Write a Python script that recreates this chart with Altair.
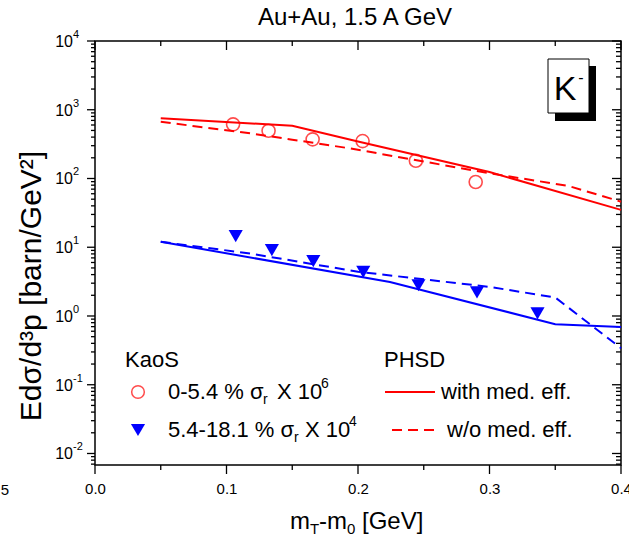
import altair as alt
import pandas as pd

# ---------------- data ----------------
kaos_c_x = [0.105, 0.132, 0.1655, 0.2035, 0.244, 0.2895]
kaos_c_y = [613, 495, 371, 350, 181, 89]

kaos_t_x = [0.107, 0.1345, 0.166, 0.204, 0.246, 0.2905, 0.3365]
kaos_t_y = [14.5, 9.1, 6.3, 4.4, 2.8, 2.2, 1.09]

red_solid_x = [0.05, 0.15, 0.2, 0.3, 0.4]
red_solid_y = [750, 585, 345, 124, 35]

red_dash_x = [0.05, 0.118, 0.15, 0.194, 0.3, 0.36, 0.4]
red_dash_y = [668, 454, 367, 274, 119, 78, 46]

blue_solid_x = [0.05, 0.2243, 0.35, 0.4]
blue_solid_y = [12.0, 3.13, 0.76, 0.69]

blue_dash_x = [0.05, 0.118, 0.2, 0.3, 0.35, 0.4]
blue_dash_y = [12.0, 8.1, 4.4, 2.65, 1.86, 0.34]

x_major = [0.0, 0.1, 0.2, 0.3, 0.4]
x_minor = [0.05, 0.15, 0.25, 0.35]
y_decades = [1e4, 1e3, 1e2, 1e1, 1e0, 1e-1, 1e-2]
y_exps = ["4", "3", "2", "1", "0", "-1", "-2"]
Y_MIN, Y_MAX = 0.0068, 1e4
y_minor = [m * d for d in [1e-3, 1e-2, 1e-1, 1e0, 1e1, 1e2, 1e3]
           for m in range(2, 10) if Y_MIN <= m * d <= Y_MAX]

# ---------------- layout ----------------
W, H = 526, 424
F = "Liberation Sans"
RED, BLUE = "#FF0000", "#0000FF"

xs = alt.Scale(domain=[0, 0.4], nice=False, zero=False)
ys = alt.Scale(type="log", domain=[Y_MIN, Y_MAX], nice=False)
xaxis = alt.Axis(values=x_major, format=".1f", ticks=False, domain=False, grid=False,
                 labelFontSize=15, labelFont=F, labelColor="black", labelPadding=16,
                 labelFlush=False, title=None)

dummy = pd.DataFrame({"a": [0]})


def X(f="x"):
    return alt.X(f"{f}:Q", scale=xs, axis=xaxis, title=None)


def Y(f="y"):
    return alt.Y(f"{f}:Q", scale=ys, axis=None, title=None)


def txt(s, x, y, size, align="left", baseline="middle", dy=0, angle=0):
    return alt.Chart(dummy).mark_text(text=s, align=align, baseline=baseline, fontSize=size,
                                      font=F, dy=dy, angle=angle, color="black").encode(
        x=alt.value(x), y=alt.value(y))


def line(xv, yv, color, dash=None):
    df = pd.DataFrame({"x": xv, "y": yv})
    kw = dict(color=color, strokeWidth=2)
    if dash:
        kw["strokeDash"] = dash
    return alt.Chart(df).mark_line(**kw).encode(x=X(), y=Y())


layers = []

# frame
layers.append(alt.Chart(dummy).mark_rect(fill="white", stroke="black", strokeWidth=1.5).encode(
    x=alt.value(0), x2=alt.value(W), y=alt.value(0), y2=alt.value(H)))

# ticks
xmaj = pd.DataFrame({"v": x_major})
xmin = pd.DataFrame({"v": x_minor})
ymaj = pd.DataFrame({"v": y_decades})
ymin = pd.DataFrame({"v": y_minor})
tk = dict(color="black", strokeWidth=1.3)
layers += [
    alt.Chart(xmaj).mark_rule(**tk).encode(x=X("v"), y=alt.value(H), y2=alt.value(H + 9)),
    alt.Chart(xmin).mark_rule(**tk).encode(x=X("v"), y=alt.value(H), y2=alt.value(H + 5)),
    alt.Chart(xmaj).mark_rule(**tk).encode(x=X("v"), y=alt.value(0), y2=alt.value(9)),
    alt.Chart(xmin).mark_rule(**tk).encode(x=X("v"), y=alt.value(0), y2=alt.value(5)),
    alt.Chart(ymaj).mark_rule(**tk).encode(y=Y("v"), x=alt.value(-8), x2=alt.value(0)),
    alt.Chart(ymin).mark_rule(**tk).encode(y=Y("v"), x=alt.value(-4), x2=alt.value(0)),
    alt.Chart(ymaj).mark_rule(**tk).encode(y=Y("v"), x=alt.value(W - 9), x2=alt.value(W)),
    alt.Chart(ymin).mark_rule(**tk).encode(y=Y("v"), x=alt.value(W - 5), x2=alt.value(W)),
]

# y tick labels 10^n
ylab = pd.DataFrame({"v": y_decades, "e": y_exps})
layers += [
    alt.Chart(ylab).mark_text(text="10", align="right", baseline="middle", fontSize=16,
                              font=F, color="black", dy=1).encode(y=Y("v"), x=alt.value(-22)),
    alt.Chart(ylab).mark_text(align="left", baseline="middle", fontSize=11, font=F,
                              color="black", dy=-6).encode(y=Y("v"), x=alt.value(-22), text="e:N"),
]

# data lines
layers += [
    line(red_solid_x, red_solid_y, RED),
    line(red_dash_x, red_dash_y, RED, [10, 6]),
    line(blue_solid_x, blue_solid_y, BLUE),
    line(blue_dash_x, blue_dash_y, BLUE, [10, 6]),
]

# data points
cdf = pd.DataFrame({"x": kaos_c_x, "y": kaos_c_y})
tdf = pd.DataFrame({"x": kaos_t_x, "y": kaos_t_y})
layers += [
    alt.Chart(cdf).mark_point(shape="circle", filled=False, size=170, strokeWidth=1.6,
                              color=RED).encode(x=X(), y=Y()),
    alt.Chart(tdf).mark_point(shape="triangle-down", filled=True, size=200, opacity=1,
                              color=BLUE).encode(x=X(), y=Y()),
]

# K- box
layers += [
    alt.Chart(dummy).mark_rect(fill="black").encode(
        x=alt.value(460), x2=alt.value(501), y=alt.value(25), y2=alt.value(80)),
    alt.Chart(dummy).mark_rect(fill="white", stroke="black", strokeWidth=1).encode(
        x=alt.value(453), x2=alt.value(494), y=alt.value(18), y2=alt.value(72)),
    txt("K", 470, 49, 34, align="center"),
    txt("-", 486, 37, 16, align="center"),
]

# legend
LF = 22
layers += [
    txt("KaoS", 30, 319, LF),
    txt("PHSD", 289, 319, LF),
    alt.Chart(dummy).mark_point(shape="circle", filled=False, size=160, strokeWidth=1.5,
                                color=RED).encode(x=alt.value(43), y=alt.value(351)),
    alt.Chart(dummy).mark_point(shape="triangle-down", filled=True, size=200, opacity=1,
                                color=BLUE).encode(x=alt.value(43), y=alt.value(389)),
    txt("0-5.4 % σ", 73, 351, LF),
    txt("r", 168, 351, 14, dy=8),
    txt("X 10", 182, 351, LF),
    txt("6", 226, 351, 14, dy=-8),
    txt("5.4-18.1 % σ", 73, 389, LF),
    txt("r", 199, 389, 14, dy=8),
    txt("X 10", 210, 389, LF),
    txt("4", 254, 389, 14, dy=-8),
    alt.Chart(dummy).mark_rule(color=RED, strokeWidth=2).encode(
        x=alt.value(290), x2=alt.value(340), y=alt.value(351)),
    alt.Chart(dummy).mark_rule(color=RED, strokeWidth=2, strokeDash=[10, 6]).encode(
        x=alt.value(297), x2=alt.value(343), y=alt.value(389)),
    txt("with med. eff.", 346, 351, LF),
    txt("w/o med. eff.", 352, 389, LF),
]

# titles
layers += [
    txt("Au+Au, 1.5 A GeV", 260, -23, 24, align="center"),
    txt("Edσ/d³p [barn/GeV²]", -63, 245, 30, align="center", angle=270),
    txt("m", 195, 481, 24),
    txt("T", 215, 481, 15, dy=7),
    txt("-m", 224, 481, 24),
    txt("0", 252, 481, 15, dy=7),
    txt("[GeV]", 267, 481, 24),
    txt("0.5", -86, 449, 15, align="right"),
]

chart = alt.layer(*layers).properties(
    width=W, height=H,
    padding={"left": 95, "top": 41, "right": 8, "bottom": 74},
    autosize=alt.AutoSizeParams(type="none"),
    background="white",
).configure_view(stroke=None)

chart.save("out.html", embed_options={"renderer": "svg", "actions": False})
